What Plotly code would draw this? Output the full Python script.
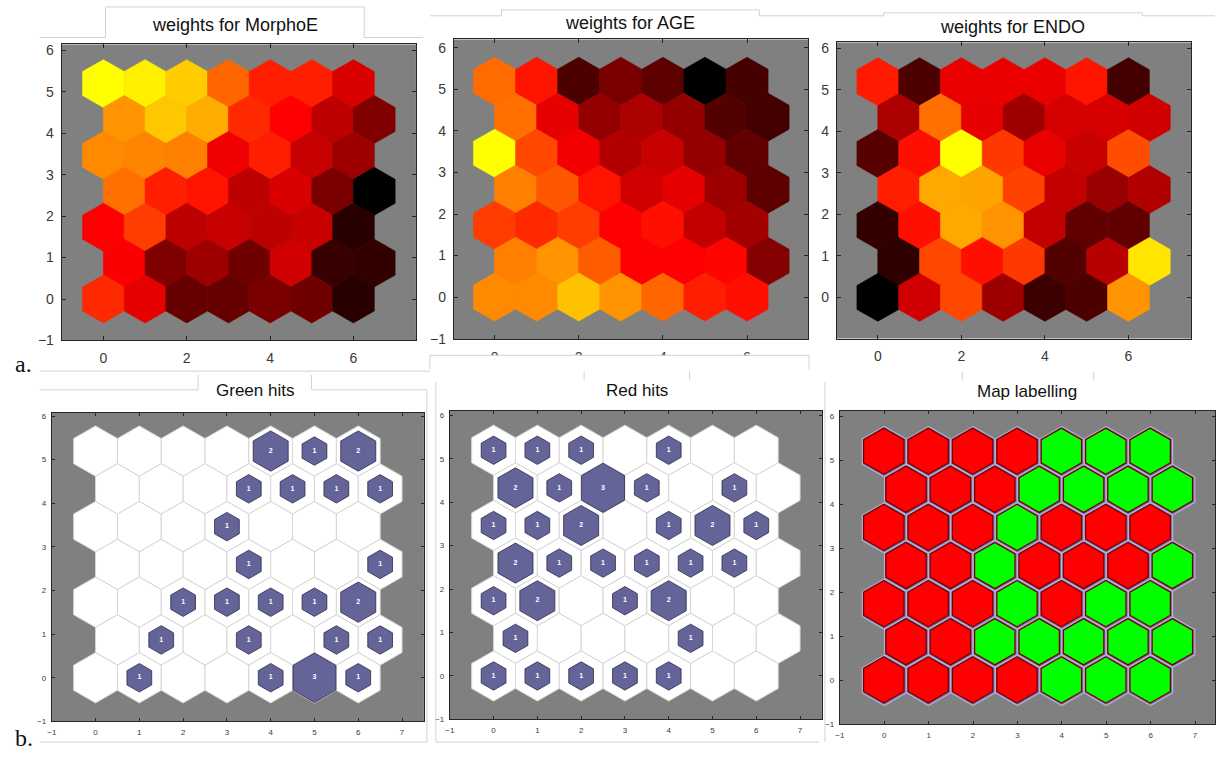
import numpy as np
import plotly.graph_objects as go
from plotly.colors import sample_colorscale

W, H = 1216, 758

# ---------------- data (rows listed from top row 6 down to row 0; odd rows shifted +0.5) -------------
morphoe_w = [
    [1.00, 0.97, 0.90, 0.70, 0.56, 0.56, 0.43],
    [0.79, 0.89, 0.84, 0.58, 0.50, 0.37, 0.25],
    [0.77, 0.76, 0.75, 0.47, 0.56, 0.39, 0.31],
    [0.72, 0.56, 0.54, 0.37, 0.43, 0.24, 0.00],
    [0.50, 0.62, 0.37, 0.39, 0.37, 0.39, 0.08],
    [0.49, 0.25, 0.31, 0.22, 0.41, 0.11, 0.10],
    [0.58, 0.45, 0.20, 0.20, 0.24, 0.22, 0.08],
]
age_w = [
    [0.71, 0.54, 0.15, 0.24, 0.18, 0.00, 0.14],
    [0.72, 0.45, 0.29, 0.34, 0.29, 0.16, 0.13],
    [1.00, 0.64, 0.48, 0.35, 0.39, 0.29, 0.19],
    [0.75, 0.67, 0.54, 0.41, 0.45, 0.31, 0.18],
    [0.62, 0.58, 0.62, 0.50, 0.53, 0.38, 0.32],
    [0.75, 0.79, 0.68, 0.50, 0.50, 0.51, 0.26],
    [0.77, 0.77, 0.88, 0.79, 0.70, 0.56, 0.53],
]
endo_w = [
    [0.55, 0.15, 0.46, 0.46, 0.46, 0.54, 0.13],
    [0.34, 0.72, 0.45, 0.31, 0.42, 0.42, 0.41],
    [0.17, 0.53, 1.00, 0.61, 0.46, 0.39, 0.65],
    [0.56, 0.83, 0.82, 0.63, 0.38, 0.30, 0.35],
    [0.10, 0.53, 0.83, 0.79, 0.38, 0.19, 0.19],
    [0.09, 0.64, 0.53, 0.61, 0.16, 0.36, 0.95],
    [0.00, 0.41, 0.64, 0.31, 0.12, 0.15, 0.79],
]
green_hits = [
    [0, 0, 0, 0, 2, 1, 2],
    [0, 0, 0, 1, 1, 1, 1],
    [0, 0, 0, 1, 0, 0, 0],
    [0, 0, 0, 1, 0, 0, 1],
    [0, 0, 1, 1, 1, 1, 2],
    [0, 1, 0, 1, 0, 1, 1],
    [0, 1, 0, 0, 1, 3, 1],
]
red_hits = [
    [1, 1, 1, 0, 1, 0, 0],
    [2, 1, 3, 1, 0, 1, 0],
    [1, 1, 2, 0, 1, 2, 1],
    [2, 1, 1, 1, 1, 1, 0],
    [1, 2, 0, 1, 2, 0, 0],
    [1, 0, 0, 0, 1, 0, 0],
    [1, 1, 1, 1, 1, 0, 0],
]
map_labels = [
    "RRRRGGG",
    "RRRGGGG",
    "RRRGRRR",
    "RRGRRRG",
    "RRRGRGG",
    "RRGGGGG",
    "RRRRGGG",
]
panel_titles = ["weights for MorphoE", "weights for AGE", "weights for ENDO",
                "Green hits", "Red hits", "Map labelling"]
top_xticks = [0, 2, 4, 6]
top_yticks = [-1, 0, 1, 2, 3, 4, 5, 6]
bot_xticks = [-1, 0, 1, 2, 3, 4, 5, 6, 7]
bot_yticks = [-1, 0, 1, 2, 3, 4, 5, 6]

HOT = [[0.0, "#000000"], [0.5, "#ff0000"], [1.0, "#ffff00"]]
SQ3 = np.sqrt(3.0)


def centre(row_from_top, col):
    r = 6 - row_from_top
    return col + 0.5 * (r % 2), r * SQ3 / 2


def hexagon(cx, cy, s):
    rad = s / SQ3
    a = np.deg2rad([90, 150, 210, 270, 330, 30, 90])
    return list(cx + rad * np.cos(a)), list(cy + rad * np.sin(a))


fig = go.Figure()


def add_hex(k, cx, cy, s, fill, line, lw):
    xs, ys = hexagon(cx, cy, s)
    fig.add_trace(go.Scatter(x=xs, y=ys, mode="lines", fill="toself", fillcolor=fill,
                             line=dict(color=line, width=lw), hoverinfo="skip",
                             showlegend=False, xaxis=f"x{k}", yaxis=f"y{k}"))


# weights panels
for k, grid in zip([1, 2, 3], [morphoe_w, age_w, endo_w]):
    for i, row in enumerate(grid):
        cols = sample_colorscale(HOT, row)
        for j, c in enumerate(cols):
            cx, cy = centre(i, j)
            add_hex(k, cx, cy, 1.0, c, c, 0.6)

# hits panels
for k, grid in zip([4, 5], [green_hits, red_hits]):
    mx = max(max(r) for r in grid)
    tx, ty, tt = [], [], []
    for i, row in enumerate(grid):
        for j, h in enumerate(row):
            cx, cy = centre(i, j)
            add_hex(k, cx, cy, 1.0, "#ffffff", "#d6d6d6", 1)
    for i, row in enumerate(grid):
        for j, h in enumerate(row):
            if h > 0:
                cx, cy = centre(i, j)
                add_hex(k, cx, cy, 0.98 * np.sqrt(h / mx), "#646499", "#2c2c4c", 0.8)
                tx.append(cx); ty.append(cy); tt.append(str(h))
    fig.add_trace(go.Scatter(x=tx, y=ty, text=tt, mode="text", hoverinfo="skip",
                             textfont=dict(size=7, color="white", family="Liberation Sans", weight="bold"),
                             showlegend=False, xaxis=f"x{k}", yaxis=f"y{k}"))

# map labelling
for i, row in enumerate(map_labels):
    for j, lab in enumerate(row):
        cx, cy = centre(i, j)
        add_hex(6, cx, cy, 0.99, "#7373a8", "#b0b0dc", 1.2)
for i, row in enumerate(map_labels):
    for j, lab in enumerate(row):
        cx, cy = centre(i, j)
        col = "#ff0000" if lab == "R" else "#00ff00"
        add_hex(6, cx - 0.01, cy + 0.01, 0.91, col, "#7a0000", 1.3)

# ---------------- layout ----------------
def px(x):
    return x / W


def py(y):
    return 1 - y / H


panels = [
    # (x0px, x1px, y0px(top), y1px(bottom), xrange, yrange, top?)
    (57, 413, 43, 343, [-1, 7.5], [-1, 6.14], True),
    (451, 807, 38, 342, [-0.97, 7.45], [-1.02, 6.2], True),
    (836, 1192, 41, 341, [-0.98, 7.5], [-0.99, 6.14], True),
    (47, 421, 416, 729, [-1, 7.5], [-1, 6.08], False),
    (447, 821, 414, 727, [-1, 7.5], [-1, 6.11], False),
    (839, 1216, 414, 732, [-1, 7.45], [-1, 6.13], False),
]

lay = {}
for k, (x0, x1, y0, y1, xr, yr, top) in enumerate(panels, start=1):
    fs = 14 if top else 8
    ax_common = dict(showgrid=False, zeroline=False, showline=True, linecolor="#262626",
                     linewidth=1, mirror="allticks", ticks="inside", ticklen=4 if top else 3,
                     tickcolor="#262626", tickfont=dict(size=fs, color="#3a3a3a",
                                                        family="Liberation Sans"))
    lay[f"xaxis{k}"] = dict(ax_common, domain=[px(x0), px(x1)], range=xr,
                            anchor=f"y{k}", tickmode="array",
                            tickvals=top_xticks if top else bot_xticks,
                            ticklabelstandoff=5 if top else 3)
    lay[f"yaxis{k}"] = dict(ax_common, domain=[py(y1), py(y0)], range=yr,
                            anchor=f"x{k}", tickmode="array",
                            tickvals=top_yticks if top else bot_yticks,
                            ticklabelstandoff=4 if top else 3)

lay["xaxis"] = lay.pop("xaxis1")
lay["yaxis"] = lay.pop("yaxis1")

title_pos = [(231, 23, 18), (628, 21, 18), (1012, 25, 18),
             (251, 394, 17), (635, 394, 17), (1027, 395, 17)]
annotations = []
for t, (x, y, s) in zip(panel_titles, title_pos):
    annotations.append(dict(text=t, x=px(x), y=py(y), xref="paper", yref="paper",
                            showarrow=False, xanchor="center", yanchor="middle",
                            font=dict(size=s, color="#111111", family="Liberation Sans")))
annotations.append(dict(text="a.", x=px(8), y=py(367), xref="paper", yref="paper",
                        showarrow=False, xanchor="left", yanchor="middle",
                        font=dict(size=24, color="#111111", family="Liberation Serif")))
annotations.append(dict(text="b.", x=px(8), y=py(746), xref="paper", yref="paper",
                        showarrow=False, xanchor="left", yanchor="middle",
                        font=dict(size=24, color="#111111", family="Liberation Serif")))

frame_lines = [
    [(35, 36), (101, 36), (101, 5), (361, 5), (361, 36), (420, 36)],
    [(427, 14), (499, 14), (499, 8), (758, 8), (758, 14), (820, 14)],
    [(820, 14), (883, 14), (883, 11), (1143, 11), (1143, 14), (1216, 14)],
    [(427, 372), (427, 358), (808, 358), (808, 372)],
    [(35, 374), (427, 374)],
    [(35, 393), (194, 393), (194, 378)],
    [(308, 378), (308, 393), (424, 393), (424, 750)],
    [(35, 750), (424, 750)],
    [(433, 385), (433, 750), (818, 750)],
    [(582, 374), (582, 383)], [(688, 374), (688, 383)],
    [(824, 385), (824, 750)],
    [(962, 375), (962, 383)], [(1094, 375), (1094, 383)],
]
shapes = [dict(type="rect", xref="paper", yref="paper", x0=px(428), x1=px(807),
               y0=py(372), y1=py(358.5), fillcolor="white", line=dict(width=0), layer="above")]
for pl in frame_lines:
    path = "M " + " L ".join(f"{px(a):.5f},{py(b):.5f}" for a, b in pl)
    shapes.append(dict(type="path", path=path, xref="paper", yref="paper",
                       line=dict(color="#d2d2d2", width=1), layer="above"))

fig.update_layout(width=W, height=H, margin=dict(l=0, r=0, t=0, b=0),
                  paper_bgcolor="white", plot_bgcolor="#808080",
                  annotations=annotations, shapes=shapes, showlegend=False, **lay)

fig.write_html("out.html", config={"displayModeBar": False},
               post_script="document.body.style.margin='0';document.body.style.overflow='hidden';")
